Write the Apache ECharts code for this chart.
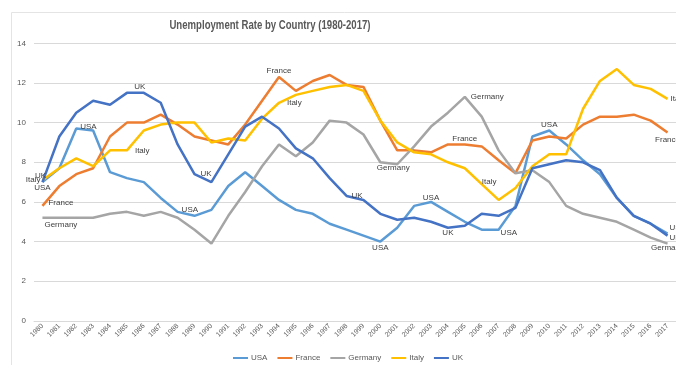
<!DOCTYPE html>
<html><head><meta charset="utf-8">
<script src="https://cdn.jsdelivr.net/npm/echarts@6/dist/echarts.min.js"></script>
<style>html,body{margin:0;padding:0;background:#fff}#c{width:676px;height:365px}</style>
</head><body><div id="c"></div>
<script>
const years = ['1980','1981','1982','1983','1984','1985','1986','1987','1988','1989','1990','1991','1992','1993','1994','1995','1996','1997','1998','1999','2000','2001','2002','2003','2004','2005','2006','2007','2008','2009','2010','2011','2012','2013','2014','2015','2016','2017'];
const yTicks = [0, 2, 4, 6, 8, 10, 12, 14];
const usa = [7.0, 7.7, 9.7, 9.6, 7.5, 7.2, 7.0, 6.2, 5.5, 5.3, 5.6, 6.8, 7.5, 6.8, 6.1, 5.6, 5.4, 4.9, 4.6, 4.3, 4.0, 4.7, 5.8, 6.0, 5.5, 5.0, 4.6, 4.6, 5.8, 9.3, 9.6, 8.9, 8.1, 7.4, 6.2, 5.3, 4.9, 4.4];
const france = [5.8, 6.8, 7.4, 7.7, 9.3, 10.0, 10.0, 10.4, 9.9, 9.3, 9.1, 8.9, 9.9, 11.1, 12.3, 11.6, 12.1, 12.4, 11.9, 11.8, 10.1, 8.6, 8.6, 8.5, 8.9, 8.9, 8.8, 8.1, 7.45, 9.1, 9.3, 9.2, 9.9, 10.3, 10.3, 10.4, 10.1, 9.5];
const germany = [5.2, 5.2, 5.2, 5.2, 5.4, 5.5, 5.3, 5.5, 5.2, 4.6, 3.9, 5.3, 6.5, 7.8, 8.9, 8.3, 9.0, 10.1, 10.0, 9.4, 8.0, 7.9, 8.8, 9.8, 10.5, 11.3, 10.3, 8.6, 7.45, 7.6, 7.0, 5.8, 5.4, 5.2, 5.0, 4.6, 4.2, 3.9];
const italy = [7.1, 7.7, 8.2, 7.8, 8.6, 8.6, 9.6, 9.9, 10.0, 10.0, 9.0, 9.2, 9.1, 10.2, 11.0, 11.4, 11.6, 11.8, 11.9, 11.6, 10.1, 9.0, 8.5, 8.4, 8.0, 7.7, 6.9, 6.1, 6.7, 7.8, 8.4, 8.4, 10.7, 12.1, 12.7, 11.9, 11.7, 11.2];
const uk = [7.0, 9.3, 10.5, 11.1, 10.9, 11.5, 11.5, 11.0, 8.9, 7.4, 7.0, 8.4, 9.8, 10.3, 9.7, 8.7, 8.2, 7.2, 6.3, 6.1, 5.4, 5.1, 5.2, 5.0, 4.7, 4.8, 5.4, 5.3, 5.7, 7.7, 7.9, 8.1, 8.0, 7.6, 6.2, 5.3, 4.9, 4.3];
const seriesNames = ['USA', 'France', 'Germany', 'Italy', 'UK'];
const titleText = 'Unemployment Rate by Country (1980-2017)';

// label placement (style only): [series, year, position, distance, offset]
const labelSpecs = [
  ['USA','1980','bottom',2,[0,0]], ['USA','1982','right',4,[0,-2]], ['USA','1988','right',4,[0,-2]],
  ['USA','2000','bottom',2,[0,0]], ['USA','2003','top',0,[0,0]], ['USA','2007','right',2,[0,3]],
  ['USA','2010','top',2,[0,0]], ['USA','2017','right',2,[0,-6]],
  ['France','1980','right',6,[0,-3]], ['France','1994','top',2,[0,0]], ['France','2005','top',2,[0,0]], ['France','2017','bottom',3,[0,0]],
  ['Germany','1980','right',2,[0,7]], ['Germany','2001','bottom',0,[-4,0]], ['Germany','2005','right',6,[0,0]], ['Germany','2017','bottom',0,[0,0]],
  ['Italy','1980','left',2,[0,0]], ['Italy','1985','right',8,[0,0]], ['Italy','1994','right',8,[0,0]], ['Italy','2006','right',0,[0,-2]], ['Italy','2017','right',3,[0,0]],
  ['UK','1980','top',2,[-2,0]], ['UK','1986','top',2,[-4,0]], ['UK','1989','right',6,[0,0]], ['UK','1998','right',5,[0,0]], ['UK','2004','bottom',1,[0,0]], ['UK','2017','right',2,[0,2]]
];
const colors = { USA: '#5B9BD5', France: '#ED7D31', Germany: '#A5A5A5', Italy: '#FFC000', UK: '#4472C4' };
const valuesByName = { USA: usa, France: france, Germany: germany, Italy: italy, UK: uk };
const FONT = '"Liberation Sans", sans-serif';

function buildData(name, values) {
  return values.map((v, i) => {
    const s = labelSpecs.find(l => l[0] === name && l[1] === years[i]);
    if (!s) return v;
    return { value: v, label: { show: true, position: s[2], distance: s[3], offset: s[4], formatter: name } };
  });
}

const chart = echarts.init(document.getElementById('c'), null, { renderer: 'canvas' });
chart.setOption({
  animation: false,
  backgroundColor: '#fff',
  graphic: [
    { type: 'rect', shape: { x: 11.5, y: 12.5, width: 700, height: 400 }, style: { fill: 'none', stroke: '#E4E4E4', lineWidth: 1 }, silent: true },
    { type: 'text', x: 270, y: 26, scaleX: 0.8, silent: true,
      style: { text: titleText, align: 'center', verticalAlign: 'middle', fill: '#595959',
        font: 'bold 12px "Liberation Sans", sans-serif' } }
  ],
  legend: {
    data: seriesNames, left: 228, top: 349, icon: 'rect', itemWidth: 15, itemHeight: 2, itemGap: 10,
    textStyle: { fontFamily: FONT, fontSize: 8, color: '#595959', padding: [0, 0, 0, -2] }
  },
  grid: { left: 34, right: 0, top: 43.3, bottom: 44.1, containLabel: false },
  xAxis: {
    type: 'category', data: years, boundaryGap: true,
    axisLine: { show: true, lineStyle: { color: '#D9D9D9' } },
    axisTick: { show: false },
    axisLabel: { interval: 0, rotate: 45, fontSize: 7, color: '#595959', fontFamily: FONT, margin: 4 }
  },
  yAxis: {
    type: 'value', min: yTicks[0], max: yTicks[yTicks.length - 1], interval: 2,
    axisLine: { show: false }, axisTick: { show: false },
    splitLine: { lineStyle: { color: '#D9D9D9' } },
    axisLabel: { fontSize: 8, color: '#595959', fontFamily: FONT, margin: 8 }
  },
  series: seriesNames.map(name => ({
    name, type: 'line', data: buildData(name, valuesByName[name]),
    symbol: 'circle', symbolSize: 0.01, showSymbol: true, showAllSymbol: true,
    lineStyle: { width: 2.5, color: colors[name] }, itemStyle: { color: colors[name] },
    label: { show: false, fontSize: 8, color: '#404040', fontFamily: FONT },
    emphasis: { disabled: true }
  }))
});
</script>
</body></html>
